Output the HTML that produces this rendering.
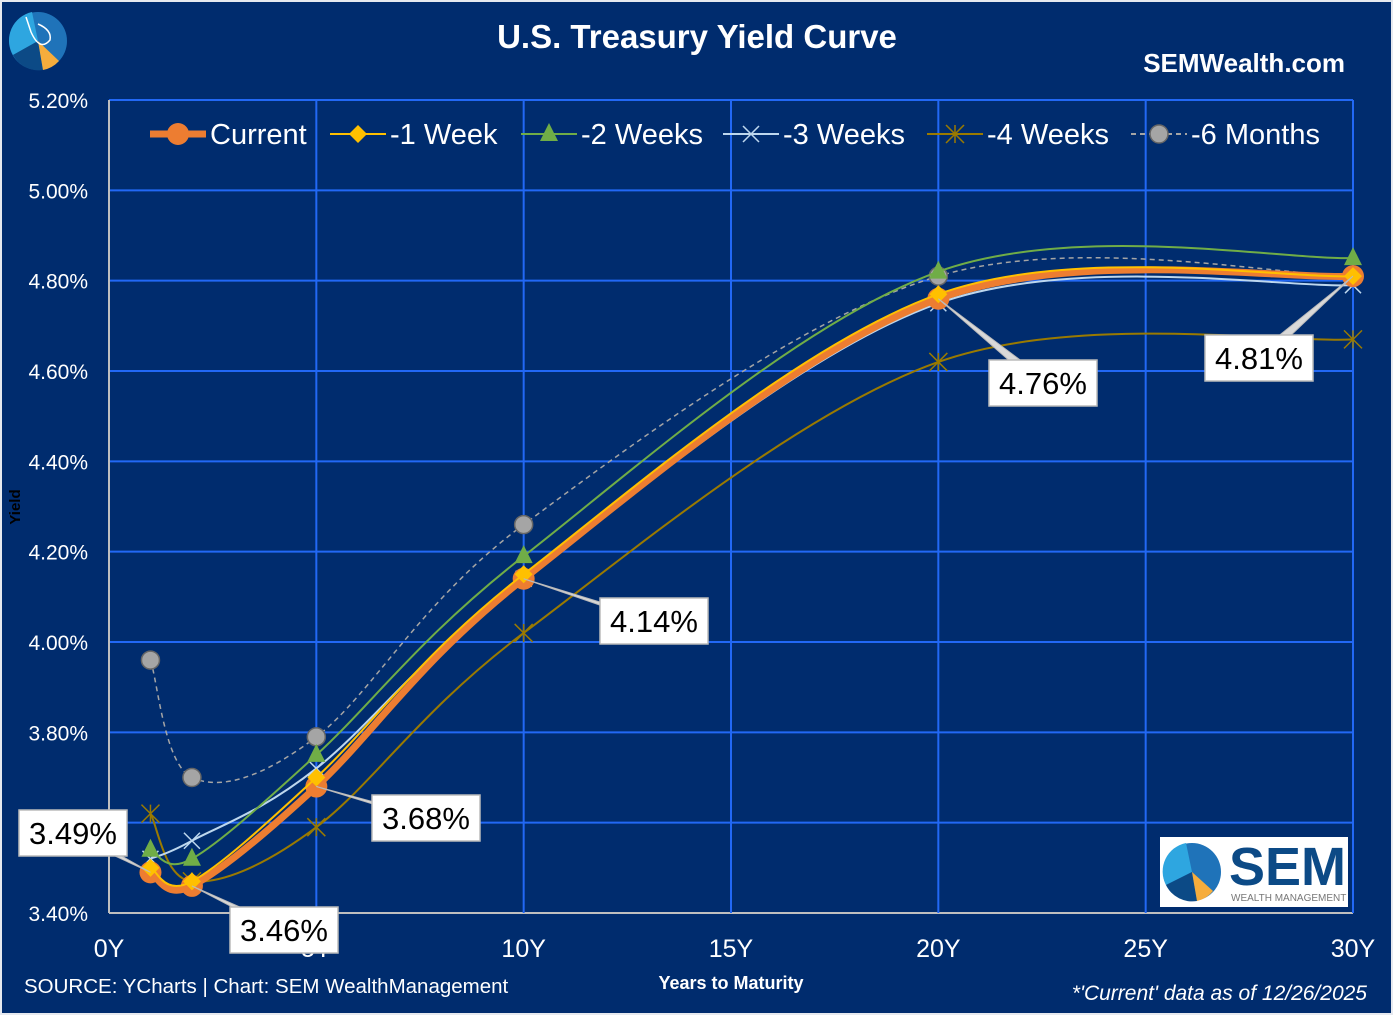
<!DOCTYPE html>
<html><head><meta charset="utf-8"><style>
html,body{margin:0;padding:0;background:#e6e9ef;}
svg{display:block;font-family:"Liberation Sans",sans-serif;}
</style></head><body>
<svg id="chart" width="1393" height="1015" viewBox="0 0 1393 1015">
<rect x="2" y="2" width="1389" height="1011" fill="#002c6e"/>
<g>
<circle cx="38" cy="41" r="29" fill="#1f73b9"/>
<path d="M38 41 L32 12 A29 29 0 0 0 13 55 Z" fill="#2ea6e0"/>
<path d="M38 41 L13 55 A29 29 0 0 0 43 70 Z" fill="#0c4a86"/>
<path d="M38 41 L43 70 A29 29 0 0 0 59 61 Z" fill="#f6ad3c"/>
<path d="M26 17 L31 32 Q40 52 50 40 Q52 30 38 24" fill="none" stroke="#fff" stroke-width="1.5"/>
</g>
<text x="697" y="48" text-anchor="middle" fill="#fff" font-size="33" font-weight="bold">U.S. Treasury Yield Curve</text>
<text x="1345" y="72" text-anchor="end" fill="#fff" font-size="26" font-weight="bold">SEMWealth.com</text>
<g id="grid"></g>
<g id="yticks"></g>
<g id="xticks"></g>
<text x="20" y="507" transform="rotate(-90 20 507)" text-anchor="middle" fill="#000" font-size="15" font-weight="bold">Yield</text>
<text x="731" y="989" text-anchor="middle" fill="#fff" font-size="18" font-weight="bold">Years to Maturity</text>
<g id="series"></g>
<g id="labels"></g>
<g id="legend"></g>
<g>
<rect x="1160" y="837" width="188" height="70" fill="#fff"/>
<circle cx="1192" cy="872" r="29" fill="#1f73b9"/>
<path d="M1192 872 L1186 843 A29 29 0 0 0 1166 885 Z" fill="#2ea6e0"/>
<path d="M1192 872 L1166 885 A29 29 0 0 0 1197 901 Z" fill="#0c4a86"/>
<path d="M1192 872 L1197 901 A29 29 0 0 0 1213 891 Z" fill="#f6ad3c"/>
<text x="1229" y="885" fill="#0c4a86" font-size="54" font-weight="bold">SEM</text>
<text x="1231" y="901" fill="#777" font-size="10">WEALTH MANAGEMENT</text>
</g>
<text x="24" y="993" fill="#fff" font-size="20.5">SOURCE: YCharts | Chart: SEM WealthManagement</text>
<text x="1367" y="1000" text-anchor="end" fill="#fff" font-size="21" font-style="italic">*'Current' data as of 12/26/2025</text>
</svg>
<script>
const maturities=[1,2,5,10,20,30];
const seriesNames=["Current","-1 Week","-2 Weeks","-3 Weeks","-4 Weeks","-6 Months"];
const current=[3.49,3.46,3.68,4.14,4.76,4.81];
const week1=[3.50,3.47,3.70,4.15,4.77,4.81];
const week2=[3.54,3.52,3.75,4.19,4.82,4.85];
const week3=[3.52,3.56,3.72,4.14,4.75,4.79];
const week4=[3.62,3.47,3.59,4.02,4.62,4.67];
const month6=[3.96,3.70,3.79,4.26,4.81,4.81];
const yTicks=[3.40,3.60,3.80,4.00,4.20,4.40,4.60,4.80,5.00,5.20];
const xTicks=[0,5,10,15,20,25,30];
const labelIdx=[0,1,2,3,4,5];

const NS="http://www.w3.org/2000/svg";
const X0=109,X1=1353,Y0=913,Y1=100;
const xs=v=>X0+(v-0)/30*(X1-X0);
const ys=v=>Y0-(v-3.4)/1.8*(Y0-Y1);
function mk(tag,attrs,parent){const e=document.createElementNS(NS,tag);for(const k in attrs)e.setAttribute(k,attrs[k]);parent.appendChild(e);return e;}
const grid=document.getElementById('grid');
yTicks.forEach(t=>{const l=mk('line',{x1:X0,x2:X1,y1:ys(t),y2:ys(t),stroke:t===3.4?'#bfbfbf':'#2268f5','stroke-width':2},grid);

});
xTicks.forEach(t=>{const l=mk('line',{x1:xs(t),x2:xs(t),y1:Y1,y2:Y0,stroke:t===0?'#bfbfbf':'#2268f5','stroke-width':2},grid);

});
const yt=document.getElementById('yticks');
yTicks.forEach(t=>{const e=mk('text',{x:88,y:ys(t)+8,'text-anchor':'end',fill:'#fff','font-size':21},yt);e.textContent=t.toFixed(2)+'%';

});
const xt=document.getElementById('xticks');
xTicks.forEach(t=>{const e=mk('text',{x:xs(t),y:957,'text-anchor':'middle',fill:'#fff','font-size':25},xt);e.textContent=t+'Y';

});

function spline(vals){const p=vals.map((v,i)=>[xs(maturities[i]),ys(v)]);let d=`M${p[0][0]},${p[0][1]}`;
for(let i=0;i<p.length-1;i++){const a=p[Math.max(0,i-1)],b=p[i],c=p[i+1],e=p[Math.min(p.length-1,i+2)];
const c1=[b[0]+(c[0]-a[0])/6,b[1]+(c[1]-a[1])/6],c2=[c[0]-(e[0]-b[0])/6,c[1]-(e[1]-b[1])/6];
d+=` C${c1[0]},${c1[1]} ${c2[0]},${c2[1]} ${c[0]},${c[1]}`;}return d;}
function marker(type,x,y,color,g){
 if(type==='circle')return mk('circle',{cx:x,cy:y,r:11,fill:color},g);
 if(type==='gcircle')return mk('circle',{cx:x,cy:y,r:9,fill:'#a5a5a5',stroke:'#666','stroke-width':1.5},g);
 if(type==='diamond')return mk('path',{d:`M${x} ${y-9}L${x+9} ${y}L${x} ${y+9}L${x-9} ${y}Z`,fill:color},g);
 if(type==='tri')return mk('path',{d:`M${x} ${y-11}L${x+9} ${y+7}L${x-9} ${y+7}Z`,fill:color},g);
 if(type==='x')return mk('path',{d:`M${x-8} ${y-8}L${x+8} ${y+8}M${x+8} ${y-8}L${x-8} ${y+8}`,stroke:color,'stroke-width':1.5},g);
 if(type==='star')return mk('path',{d:`M${x-9} ${y-9}L${x+9} ${y+9}M${x+9} ${y-9}L${x-9} ${y+9}M${x} ${y-9}L${x} ${y+9}`,stroke:color,'stroke-width':1.5},g);
}
const defs=[
 {v:month6,c:'#a5a5a5',w:1.5,dash:'5,4',m:'gcircle',n:'series-6-months'},
 {v:week4,c:'#9a7a00',w:2,m:'star',n:'series-4-weeks'},
 {v:week3,c:'#bdd7ee',w:2,m:'x',n:'series-3-weeks'},
 {v:week2,c:'#70ad47',w:2,m:'tri',n:'series-2-weeks'},
 {v:current,c:'#ed7d31',w:7,m:'circle',n:'series-current'},
 {v:week1,c:'#ffc000',w:2,m:'diamond',n:'series-1-week'}];
const sg=document.getElementById('series');
defs.forEach(s=>{const g=mk('g',{},sg);


const a={d:spline(s.v),fill:'none',stroke:s.c,'stroke-width':s.w};if(s.dash)a['stroke-dasharray']=s.dash;
const p=mk('path',a,g);


s.v.forEach((v,i)=>{const m=marker(s.m,xs(maturities[i]),ys(v),s.c,g);

});});
const lg=document.getElementById('labels');
const boxes=[[19,810],[230,907],[372,795],[600,598],[989,360],[1205,335]];
labelIdx.forEach(i=>{const x=xs(maturities[i]),y=ys(current[i]);const b=boxes[i];const w=108,h=46;
const cx=b[0]+w/2,cy=b[1]+h/2;
const g=mk('g',{},lg);


mk('path',{d:`M${x} ${y} L${cx-8} ${cy} L${cx+8} ${cy} Z`,fill:'#d9d9d9',stroke:'#bbb','stroke-width':1},g);
mk('rect',{x:b[0],y:b[1],width:w,height:h,fill:'#fff',stroke:'#bbb','stroke-width':1.5},g);
const t=mk('text',{x:cx,y:cy+11,'text-anchor':'middle',fill:'#000','font-size':31},g);t.textContent=current[i].toFixed(2)+'%';});
const leg=document.getElementById('legend');
const lx=[150,330,521,723,927,1131],markers=['circle','diamond','tri','x','star','gcircle'],cols=['#ed7d31','#ffc000','#70ad47','#bdd7ee','#9a7a00','#a5a5a5'];
seriesNames.forEach((n,i)=>{const g=mk('g',{},leg);


const y=134;const a={x1:lx[i],x2:lx[i]+56,y1:y,y2:y,stroke:cols[i],'stroke-width':i===0?7:2};if(i===5)a['stroke-dasharray']='5,4';
mk('line',a,g);
marker(markers[i],lx[i]+28,y,cols[i],g);
const t=mk('text',{x:lx[i]+60,y:y+10,fill:'#fff','font-size':29},g);t.textContent=n;});
</script>
</body></html>
